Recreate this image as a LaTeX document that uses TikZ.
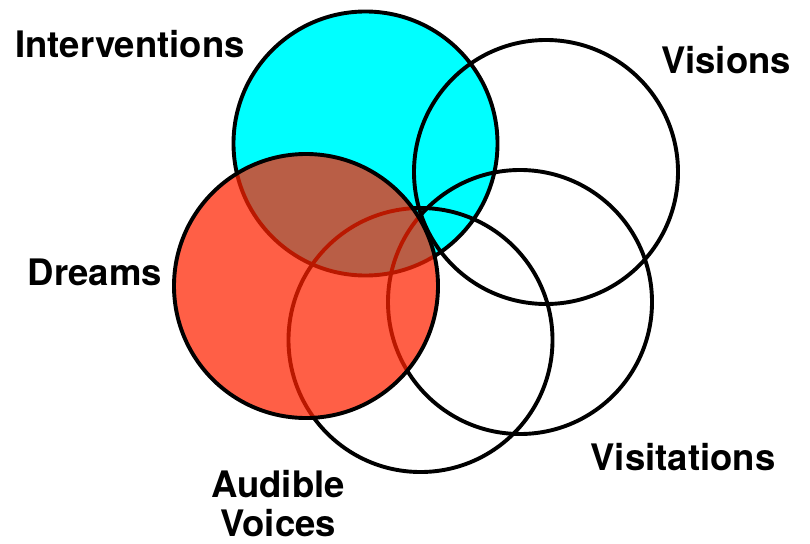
\documentclass[tikz,border=0pt]{standalone}
\usepackage{fontspec}
\setmainfont{TeX Gyre Heros}
\definecolor{cyanfill}{RGB}{0,255,255}
\definecolor{dreamred}{RGB}{255,34,0}
\begin{document}
\begin{tikzpicture}[x=1pt,y=-1pt,
  ring/.style={circle,draw=black,line width=3.9pt,minimum size=264pt,inner sep=0pt},
  lbl/.style={font=\fontsize{36.5}{39}\selectfont\bfseries,inner sep=0pt,align=center,anchor=base}]
\useasboundingbox (0,0) rectangle (810,543);
% Interventions (cyan, opaque)
\node[ring,fill=cyanfill] (interv) at (365.5,143.5) {};
% open rings
\node[ring] (visions) at (546,172) {};
\node[ring] (visit) at (520,302) {};
\node[ring] (audible) at (420.5,340) {};
% Dreams (translucent red, opaque outline)
\node[ring,fill=dreamred,fill opacity=0.725,draw opacity=1] (dreams) at (306,286) {};
% labels
\node[lbl] (tInterv) at (130,58) {Interventions};
\node[lbl] (tVisions) at (726,73) {Visions};
\node[lbl] (tDreams) at (95,285) {Dreams};
\node[lbl] (tVisit) at (683,470) {Visitations};
\node[lbl] (tAud) at (278,497) {Audible};
\node[lbl] (tVoi) at (278,536) {Voices};
\end{tikzpicture}
\end{document}
